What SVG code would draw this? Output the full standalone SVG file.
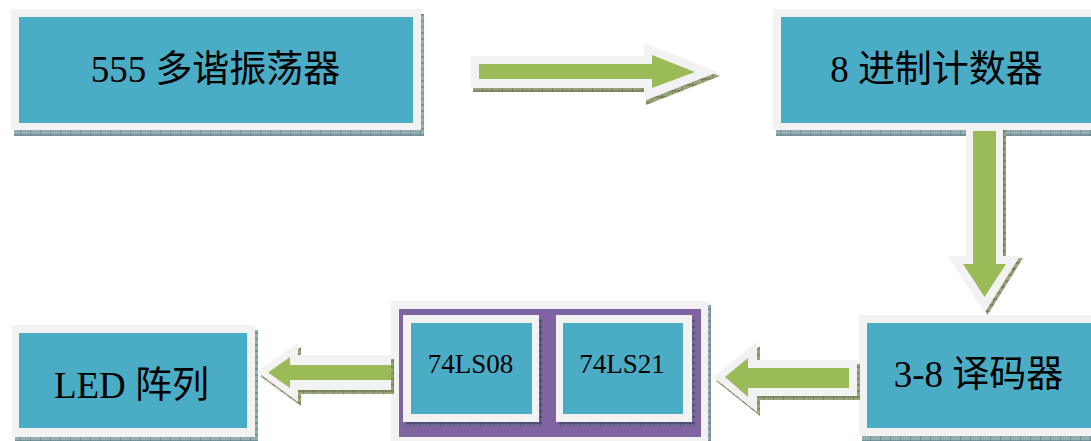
<svg xmlns="http://www.w3.org/2000/svg" width="1091" height="441" viewBox="0 0 1091 441">
<defs>
<pattern id="hT" width="10" height="6" patternUnits="userSpaceOnUse"><rect width="10" height="6" fill="#93adb2"/><path d="M0 0V6M0 3H10" stroke="#58777f" stroke-width="1"/></pattern>
<pattern id="hG" width="10" height="6" patternUnits="userSpaceOnUse"><rect width="10" height="6" fill="#98a57c"/><path d="M0 0V6M0 3H10" stroke="#606d44" stroke-width="1"/></pattern>
<pattern id="hP" width="10" height="6" patternUnits="userSpaceOnUse"><rect width="10" height="6" fill="#6c6890"/><path d="M0 0V6M0 3H10" stroke="#3c3a5e" stroke-width="1"/></pattern>
</defs>
<style>
.frame{fill:#f2f2f2}
.teal{fill:#4bacc6}
.green{fill:#9bbb59}
.purple{fill:#8064a2}
.lbl{font-family:"Liberation Serif","Noto Sans CJK SC",serif;font-size:37px;fill:#000;text-anchor:middle}
.chip{font-family:"Liberation Serif","Noto Sans CJK SC",serif;font-size:27px;fill:#000;text-anchor:middle}
</style>
<rect width="1091" height="441" fill="#ffffff"/>

<g id="node-osc">
<rect x="14" y="14" width="410" height="122" fill="url(#hT)"/>
<rect class="frame" x="11" y="9" width="410" height="121"/>
<rect class="teal" x="19" y="17" width="394" height="106"/>
<text class="lbl" x="215.5" y="82">555 多谐振荡器</text>
</g>

<g id="node-counter">
<rect x="776" y="14" width="330" height="122" fill="url(#hT)"/>
<rect class="frame" x="773" y="9" width="330" height="121"/>
<rect class="teal" x="781" y="17" width="315" height="106"/>
<text class="lbl" x="936.5" y="82">8 进制计数器</text>
</g>

<g id="node-decoder">
<rect x="862" y="320" width="250" height="121" fill="url(#hT)"/>
<rect class="frame" x="859" y="315" width="250" height="121"/>
<rect class="teal" x="867" y="323" width="234" height="105"/>
<text class="lbl" x="978.5" y="387">3-8 译码器</text>
</g>

<g id="node-gates">
<rect x="394" y="305" width="317" height="140" fill="url(#hT)"/>
<rect class="frame" x="391" y="301" width="317" height="140"/>
<rect class="purple" x="399" y="309" width="302" height="128"/>
<g id="node-74ls08">
<rect x="406" y="319" width="136" height="107" fill="url(#hP)"/>
<rect class="frame" x="403" y="315" width="136" height="107"/>
<rect class="teal" x="411" y="323" width="121" height="91"/>
<text class="chip" x="470.5" y="373">74LS08</text>
</g>
<g id="node-74ls21">
<rect x="559" y="319" width="136" height="107" fill="url(#hP)"/>
<rect class="frame" x="556" y="315" width="136" height="107"/>
<rect class="teal" x="563" y="323" width="120" height="91"/>
<text class="chip" x="622" y="373">74LS21</text>
</g>
</g>

<g id="node-led">
<rect x="15" y="330" width="243" height="115" fill="url(#hT)"/>
<rect class="frame" x="12" y="325" width="243" height="112"/>
<rect class="teal" x="19" y="333" width="228" height="95"/>
<text class="lbl" x="131.5" y="398">LED 阵列</text>
</g>

<g id="connectors">
<g id="arrow-osc-counter">
<polygon fill="url(#hG)" transform="translate(2,4)" points="471,56 644,56 644,43 718,72 644,101 644,88 471,88"/>
<polygon class="frame" points="471,56 644,56 644,43 718,72 644,101 644,88 471,88"/>
<polygon class="green" points="479,64 652,64 652,55 695,72 652,88 652,79 479,79"/>
</g>
<g id="arrow-counter-decoder">
<polygon fill="url(#hG)" transform="translate(3,2)" points="966,128 1003,128 1003,256 1020,256 984.5,313 948,256 966,256"/>
<polygon class="frame" points="966,123 1003,123 1003,256 1020,256 984.5,313 948,256 966,256"/>
<polygon class="green" points="973,131 996,131 996,264 1006,264 984.5,297 963,264 973,264"/>
</g>
<g id="arrow-decoder-gates">
<polygon fill="url(#hG)" transform="translate(3,4)" points="857,360 757,360 757,342 713,377 757,412 757,396 857,396"/>
<polygon class="frame" points="857,360 757,360 757,342 713,377 757,412 757,396 857,396"/>
<polygon class="green" points="849,368 748,368 748,358 725,377 748,397 748,388 849,388"/>
</g>
<g id="arrow-gates-led">
<polygon fill="url(#hG)" transform="translate(3,4)" points="391,355 298,355 298,343 257,372 298,402 298,390 391,390"/>
<polygon class="frame" points="391,355 298,355 298,343 257,372 298,402 298,390 391,390"/>
<polygon class="green" points="391,365 290,365 290,357 268,372.5 290,388 290,380 391,380"/>
</g>
</g>
</svg>
